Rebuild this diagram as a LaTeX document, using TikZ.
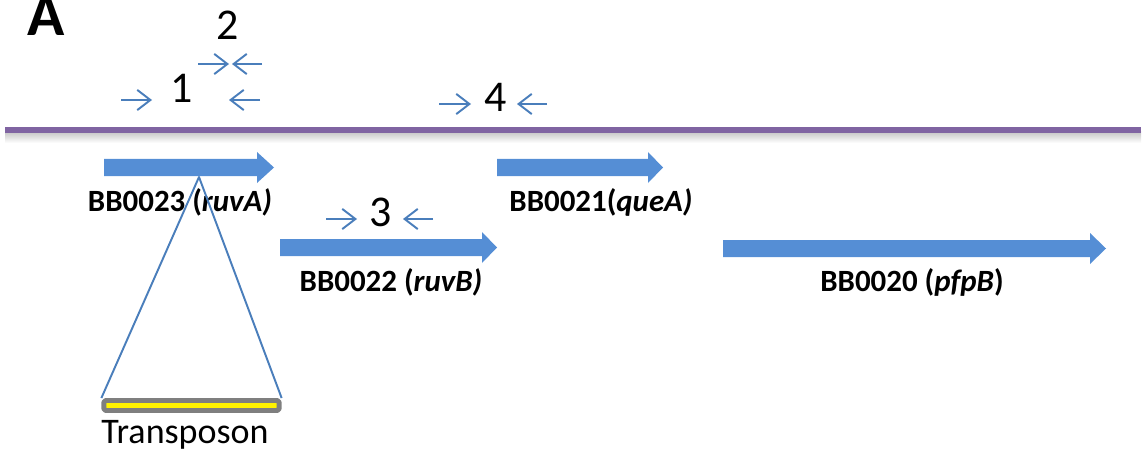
\documentclass[tikz,border=0pt]{standalone}
\usepackage{fontspec}
\setmainfont{Carlito}
\usetikzlibrary{arrows.meta}
\definecolor{genebl}{HTML}{558ED5}
\definecolor{linebl}{HTML}{4A7EBB}
\definecolor{chrom}{HTML}{8064A2}
\definecolor{tngray}{HTML}{7F7F7F}
\begin{document}
\begin{tikzpicture}[x=0.02cm,y=-0.02cm,line join=round,
	primer/.style={linebl,line width=1.1pt,-{Straight Barb[length=7.5pt,width=11.5pt]}},
	genelab/.style={anchor=base,font=\fontsize{17.6}{20}\selectfont\bfseries},
	numlab/.style={anchor=base,font=\fontsize{25}{30}\selectfont}]
	\useasboundingbox (0,0) rectangle (1143,456);
	\node[anchor=base,font=\fontsize{35}{40}\selectfont\bfseries] (panA) at (46,36) {A};
	% chromosome
	\shade[top color=black!22,bottom color=white] (5,132) rectangle (1141,143);
	\draw[chrom,line width=2.9pt] (5,130)--(1141,130);
	% genes
	\foreach \xa/\xh/\xt/\yy/\nm/\lx/\ly/\txt in {104/257/274/167.5/g23/180/212/{BB0023 (\textit{ruvA)}},
		280/482/497/247.5/g22/391/291/{BB0022 (\textit{ruvB)}},
		497/648/663/167.5/g21/601/212/{BB0021(\textit{queA)}},
		723/1090/1106/248.5/g20/912/291/{BB0020 (\textit{pfpB})}}{
		\fill[genebl] (\xa,\yy-8.5)--(\xh,\yy-8.5)--(\xh,\yy-15.5)--(\xt,\yy)--(\xh,\yy+15.5)--(\xh,\yy+8.5)--(\xa,\yy+8.5)--cycle;
		\node[genelab] (\nm) at (\lx,\ly) {\txt};
	}
	% primers
	\foreach \xs/\xe/\yy in {121/152/100,260/229/100,198/229/64,262/232/64,326/357/219,433/403/219,439/471/104,547/517/104}
		\draw[primer] (\xs,\yy)--(\xe,\yy);
	\node[numlab] (p1) at (182,103) {1};
	\node[numlab] (p2) at (228,40) {2};
	\node[numlab] (p3) at (381,226) {3};
	\node[numlab] (p4) at (496,112) {4};
	% transposon
	\coordinate (ins) at (199,177);
	\node[draw=tngray,fill=yellow,line width=2.8pt,rounded corners=1pt,minimum width=99.8pt,minimum height=5.7pt,inner sep=0pt] (tn) at (191.5,405.5) {};
	\draw[linebl,line width=1.1pt] (tn.north west)--(ins)--(tn.north east);
	\node[anchor=base,font=\fontsize{20.5}{24}\selectfont] (tnlab) at (185,443) {Transposon};
\end{tikzpicture}
\end{document}
